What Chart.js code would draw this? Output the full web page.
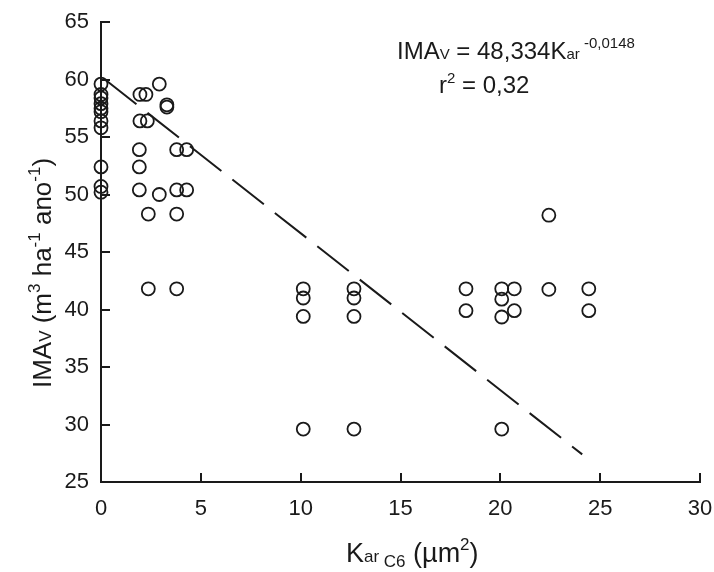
<!DOCTYPE html>
<html>
<head>
<meta charset="utf-8">
<script src="https://cdn.jsdelivr.net/npm/chart.js@4.4.0/dist/chart.umd.min.js"></script>
<style>
html,body{margin:0;padding:0;background:#fff;}
#wrap{width:714px;height:572px;}
</style>
</head>
<body>
<div id="wrap"><canvas id="c" width="714" height="572"></canvas></div>
<script>
// ---- data ----
const karValues = [
  0,0,0,0,0,0,0,0,0,0,0,
  1.95,1.95,1.92,1.92,1.92,
  2.25,2.32,2.37,2.37,
  2.92,2.92,
  3.3,3.3,
  3.79,3.79,3.79,3.79,
  4.29,4.29,
  10.13,10.13,10.13,10.13,
  12.67,12.67,12.67,12.67,
  18.28,18.28,
  20.07,20.07,20.07,20.07,
  20.7,20.7,
  22.43,22.43,
  24.43,24.43
];
const imaValues = [
  59.6,58.7,58.4,57.9,57.5,57.2,56.4,55.8,52.4,50.7,50.2,
  58.7,56.4,53.9,52.4,50.4,
  58.7,56.4,48.3,41.8,
  59.6,50.0,
  57.8,57.6,
  53.9,50.4,48.3,41.8,
  53.9,50.4,
  41.8,41.0,39.4,29.6,
  41.8,41.0,39.4,29.6,
  41.8,39.9,
  41.8,40.9,39.35,29.6,
  41.8,39.9,
  48.2,41.75,
  41.8,39.9
];
const trendX = [0.2, 24.1];
const trendY = [60.0, 27.4];
const xTicks = [0,5,10,15,20,25,30];
const yTicks = [25,30,35,40,45,50,55,60,65];

const FONT = '"Liberation Sans", Arial, sans-serif';
const INK = '#1a1a1a';

const points = karValues.map((x,i)=>({x:x, y:imaValues[i]}));
const trend = trendX.map((x,i)=>({x:x, y:trendY[i]}));

function richWidth(ctx, segs){
  let w=0;
  for(const s of segs){ ctx.font = s.size+'px '+FONT; w += ctx.measureText(s.t).width; }
  return w;
}
function drawRich(ctx, segs, x, y){
  let cx = x;
  for(const s of segs){
    ctx.font = s.size+'px '+FONT;
    ctx.fillText(s.t, cx, y + (s.dy||0));
    cx += ctx.measureText(s.t).width;
  }
}

const decor = {
  id:'decor',
  afterDraw(chart){
    const ctx = chart.ctx;
    const xs = chart.scales.x, ys = chart.scales.y;
    const a = chart.chartArea;
    ctx.save();
    ctx.strokeStyle = INK; ctx.lineWidth = 2;
    // inward tick marks
    xs.ticks.forEach(t=>{
      const px = Math.round(xs.getPixelForValue(t.value));
      ctx.beginPath(); ctx.moveTo(px, a.bottom); ctx.lineTo(px, a.bottom-9); ctx.stroke();
    });
    ys.ticks.forEach(t=>{
      const py = Math.round(ys.getPixelForValue(t.value));
      ctx.beginPath(); ctx.moveTo(a.left, py); ctx.lineTo(a.left+9, py); ctx.stroke();
    });
    ctx.fillStyle = INK;
    ctx.textBaseline = 'alphabetic';
    ctx.textAlign = 'left';
    // equation annotation
    drawRich(ctx, [
      {t:'IMA', size:24},{t:'V', size:15},{t:' = 48,334K', size:24},
      {t:'ar', size:15},{t:' -0,0148', size:15, dy:-11}
    ], 397, 59);
    drawRich(ctx, [
      {t:'r', size:24},{t:'2', size:15, dy:-10},{t:' = 0,32', size:24}
    ], 439, 93);
    // x axis title
    const xt = [
      {t:'K', size:27},{t:'ar', size:17},{t:' ', size:17},{t:'C6', size:17, dy:5},
      {t:' (\u00b5m', size:27},{t:'2', size:17, dy:-12},{t:')', size:27}
    ];
    drawRich(ctx, xt, 346, 562);
    // y axis title (rotated)
    const yt = [
      {t:'IMA', size:26},{t:'V', size:17},{t:' (m', size:26},{t:'3', size:17, dy:-11},
      {t:' ha', size:26},{t:'-1', size:17, dy:-11},{t:' ano', size:26},{t:'-1', size:17, dy:-11},
      {t:')', size:26}
    ];
    const w = richWidth(ctx, yt);
    ctx.translate(51, 273);
    ctx.rotate(-Math.PI/2);
    drawRich(ctx, yt, -w/2, 0);
    ctx.restore();
  }
};

new Chart(document.getElementById('c'), {
  type:'scatter',
  data:{
    datasets:[
      {
        type:'line',
        data: trend,
        borderColor: INK,
        borderWidth: 2,
        borderDash:[40,14],
        pointRadius:0,
        fill:false,
        tension:0,
        order:2
      },
      {
        data: points,
        pointStyle:'circle',
        pointRadius:6.5,
        pointHoverRadius:6.5,
        pointBorderWidth:1.8,
        borderColor: INK,
        backgroundColor:'rgba(0,0,0,0)',
        clip:false,
        order:1
      }
    ]
  },
  plugins:[decor],
  options:{
    responsive:false,
    animation:false,
    devicePixelRatio:1,
    events:[],
    layout:{padding:{left:0, top:22, right:14, bottom:0}},
    plugins:{legend:{display:false}, tooltip:{enabled:false}},
    scales:{
      x:{
        type:'linear', min:0, max:30,
        afterBuildTicks(s){ s.ticks = xTicks.map(v=>({value:v})); },
        afterFit(s){ s.height = 90; s.paddingLeft = 0; s.paddingRight = 0; },
        grid:{display:true, drawOnChartArea:false, drawTicks:false},
        border:{display:true, color:INK, width:2},
        ticks:{color:INK, padding:14, font:{family:FONT, size:22}, maxRotation:0}
      },
      y:{
        type:'linear', min:25, max:65,
        afterBuildTicks(s){ s.ticks = yTicks.map(v=>({value:v})); },
        afterFit(s){ s.width = 101; s.paddingTop = 0; s.paddingBottom = 0; },
        grid:{display:true, drawOnChartArea:false, drawTicks:false},
        border:{display:true, color:INK, width:2},
        ticks:{color:INK, padding:12, font:{family:FONT, size:22}}
      }
    }
  }
});
</script>
</body>
</html>
